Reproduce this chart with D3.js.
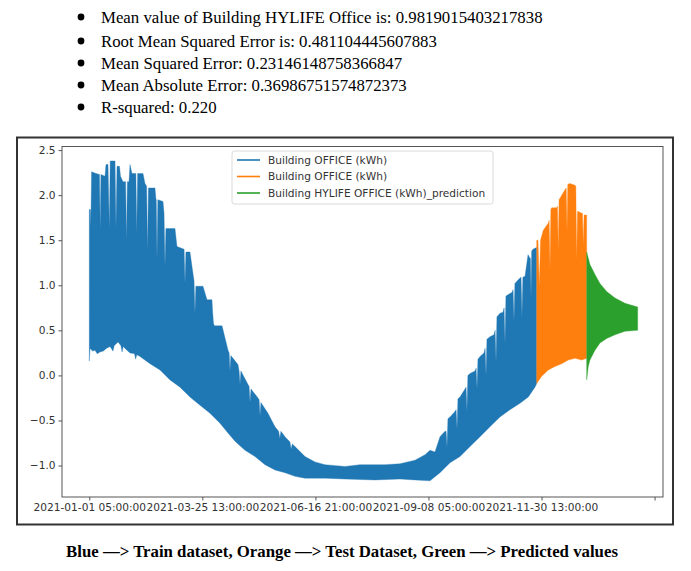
<!DOCTYPE html>
<html>
<head>
<meta charset="utf-8">
<script src="https://cdn.jsdelivr.net/npm/d3@7"></script>
<style>
  html, body { margin: 0; padding: 0; background: #fff; }
  svg { display: block; }
</style>
</head>
<body>
<svg id="chart" width="691" height="571"></svg>
<script>
// ---------------- DATA ----------------
const statLines = [
  "Mean value of Building HYLIFE Office is: 0.9819015403217838",
  "Root Mean Squared Error is: 0.481104445607883",
  "Mean Squared Error: 0.23146148758366847",
  "Mean Absolute Error: 0.36986751574872373",
  "R-squared: 0.220"
];
const caption = "Blue \u2014> Train dataset, Orange \u2014> Test Dataset, Green \u2014> Predicted values";
const seriesNames = ["Building OFFICE (kWh)", "Building OFFICE (kWh)", "Building HYLIFE OFFICE (kWh)_prediction"];
const seriesColors = ["#1f77b4", "#ff7f0e", "#2ca02c"];

const xTickValues = [0, 2000, 4000, 6000, 8000, 10000];
const xTickLabels = ["2021-01-01 05:00:00", "2021-03-25 13:00:00", "2021-06-16 21:00:00",
                     "2021-09-08 05:00:00", "2021-11-30 13:00:00", ""];
const yTickValues = [-1.0, -0.5, 0.0, 0.5, 1.0, 1.5, 2.0, 2.5];

// Train (blue): upper envelope of the hourly series (hour index, kWh)
const trainHighHours = [0,20,27,40,119,180,193,205,278,295,331,354,370,455,472,490,534,552,596,642,658,674,702,720,755,808,824,839,855,950,985,1014,1030,1046,1162,1180,1185,1198,1212,1304,1322,1339,1355,1516,1551,1677,1693,1709,1781,1834,1853,1869,1885,2011,2082,2170,2182,2197,2212,2348,2454,2474,2489,2504,2630,2650,2666,2682,2807,2827,2843,2860,2984,3004,3020,3036,3161,3285,3350,3370,3390,3462,3550,3570,3590,3639,3816,3993,4170,4523,4789,5231,5496,5762,5939,6027,6115,6204,6292,6312,6328,6344,6381,6469,6489,6505,6521,6558,6646,6665,6681,6697,6735,6823,6843,6859,6875,6912,6982,7002,7018,7034,7088,7159,7179,7195,7211,7265,7318,7338,7354,7370,7442,7477,7497,7513,7529,7584,7619,7638,7654,7670,7708,7761,7796,7804,7814,7826,7849,7884,7915];
const trainHigh = [1.84,1.84,1.65,2.26,2.24,2.23,1.61,2.23,2.21,2.34,2.34,1.63,2.38,2.38,1.63,2.32,2.32,2.21,2.15,2.15,1.50,2.15,2.15,2.34,2.24,2.24,2.24,1.58,2.24,2.24,2.13,2.10,1.39,2.08,2.08,1.95,1.95,1.28,1.95,1.93,1.80,1.21,1.63,1.63,1.43,1.40,1.02,1.37,1.37,1.13,1.05,0.69,0.99,0.99,0.84,0.84,0.70,0.58,0.55,0.55,0.28,0.25,0.05,0.22,0.12,0.05,-0.10,0.05,-0.10,-0.12,-0.30,-0.15,-0.25,-0.27,-0.45,-0.30,-0.42,-0.57,-0.62,-0.70,-0.62,-0.68,-0.74,-0.82,-0.76,-0.79,-0.90,-0.96,-0.99,-1.01,-0.99,-0.99,-0.98,-0.94,-0.88,-0.83,-0.85,-0.68,-0.62,-0.62,-0.80,-0.48,-0.46,-0.40,-0.38,-0.60,-0.26,-0.24,-0.15,-0.13,-0.40,0.00,0.02,0.05,0.08,-0.15,0.18,0.21,0.25,0.30,0.00,0.40,0.43,0.45,0.50,0.15,0.65,0.69,0.70,0.75,0.35,0.88,0.91,0.92,0.95,0.60,1.02,1.06,1.08,1.09,0.65,1.09,1.10,1.34,1.30,1.30,0.85,1.38,1.40,1.41,1.42];
// Train (blue): lower envelope
const trainLowHours = [0,12,60,101,140,189,250,300,366,420,440,508,560,580,600,632,720,800,820,840,897,1074,1251,1428,1605,1781,1958,2135,2312,2454,2578,2754,2931,3108,3285,3462,3639,3816,4170,4523,5054,5496,5762,6027,6204,6381,6558,6735,6912,7088,7265,7442,7619,7766,7884,7915];
const trainLow = [0.16,0.30,0.27,0.28,0.24,0.26,0.27,0.30,0.32,0.27,0.33,0.37,0.33,0.26,0.32,0.30,0.25,0.24,0.18,0.23,0.21,0.13,0.06,-0.05,-0.13,-0.24,-0.33,-0.42,-0.53,-0.64,-0.73,-0.83,-0.90,-0.99,-1.05,-1.08,-1.12,-1.14,-1.14,-1.15,-1.16,-1.15,-1.16,-1.17,-1.08,-0.97,-0.90,-0.79,-0.68,-0.57,-0.46,-0.38,-0.31,-0.24,-0.13,-0.09];

// Test (orange)
const testHighHours = [7915,7938,7961,7982,8031,8120,8135,8150,8165,8180,8268,8282,8296,8310,8357,8415,8437,8451,8465,8504,8592,8607,8622,8637,8650,8710,8725,8739,8753,8781,8799];
const testHigh = [1.50,1.50,0.99,1.50,1.61,1.69,1.72,1.17,1.84,1.86,1.86,1.88,1.39,1.95,2.00,2.06,2.08,1.60,2.12,2.13,2.11,2.10,1.28,1.82,1.82,1.80,1.80,1.45,1.78,1.78,1.78];
const testLowHours = [7915,8003,8120,8238,8357,8473,8592,8710,8799];
const testLow = [-0.09,-0.01,0.06,0.10,0.13,0.17,0.19,0.17,0.19];

// Prediction (green)
const predHighHours = [8799,8857,8946,9034,9153,9300,9477,9701];
const predHigh = [1.37,1.23,1.12,1.02,0.93,0.86,0.80,0.76];
const predLowHours = [8799,8827,8857,8946,9034,9153,9300,9477,9701];
const predLow = [-0.05,0.10,0.17,0.28,0.36,0.41,0.45,0.49,0.50];

// ---------------- DRAW ----------------
const svg = d3.select("#chart");

// stats bullets
const serif = "'Liberation Serif','Times New Roman',serif";
const statY = [17, 41, 63, 85, 107];
statLines.forEach((t, i) => {
  svg.append("circle").attr("cx", 81).attr("cy", statY[i]).attr("r", 3.4).attr("fill", "#000");
  svg.append("text").attr("x", 101).attr("y", statY[i] + 5.8)
    .attr("font-family", serif).attr("font-size", 16.8).attr("fill", "#000").text(t);
});

// frame around chart image
svg.append("rect").attr("x", 17).attr("y", 137.5).attr("width", 656).attr("height", 387)
  .attr("fill", "none").attr("stroke", "#333").attr("stroke-width", 2);

// plot area
const pLeft = 62, pRight = 663, pTop = 146.5, pBottom = 497;
const x = d3.scaleLinear().domain([-483, 10149]).range([pLeft, pRight]);
const y = d3.scaleLinear().domain([-1.349, 2.54]).range([pBottom, pTop]);

const plot = svg.append("g");

function band(hiH, hi, loH, lo, color) {
  const pts = hiH.map((h, i) => [h, hi[i]]);
  const lows = loH.map((h, i) => [h, lo[i]]).reverse();
  const all = pts.concat(lows);
  const line = d3.line().x(d => x(d[0])).y(d => y(d[1]));
  plot.append("path").attr("d", line(all) + "Z")
    .attr("fill", color).attr("stroke", color).attr("stroke-width", 0.35).attr("stroke-linejoin", "round");
}
band(trainHighHours, trainHigh, trainLowHours, trainLow, seriesColors[0]);
band(testHighHours, testHigh, testLowHours, testLow, seriesColors[1]);
band(predHighHours, predHigh, predLowHours, predLow, seriesColors[2]);

// axes
const sans = "'DejaVu Sans', sans-serif";
const axisColor = "#444";
const xAxis = d3.axisBottom(x).tickValues(xTickValues)
  .tickFormat((d, i) => xTickLabels[i]).tickSize(3.5).tickSizeOuter(0).tickPadding(3);
const gx = svg.append("g").attr("transform", `translate(0,${pBottom})`).call(xAxis);
const yAxis = d3.axisLeft(y).tickValues(yTickValues)
  .tickFormat(d => d3.format(".1f")(d).replace("-", "\u2212")).tickSize(3.5).tickSizeOuter(0).tickPadding(3);
const gy = svg.append("g").attr("transform", `translate(${pLeft},0)`).call(yAxis);
[gx, gy].forEach(g => {
  g.select(".domain").remove();
  g.selectAll(".tick line").attr("stroke", axisColor).attr("stroke-width", 0.9);
  g.selectAll(".tick text").attr("font-family", sans).attr("font-size", 10.6).attr("fill", "#333");
});

// spines
svg.append("rect").attr("x", pLeft).attr("y", pTop).attr("width", pRight - pLeft).attr("height", pBottom - pTop)
  .attr("fill", "none").attr("stroke", axisColor).attr("stroke-width", 0.9);

// legend
const lg = svg.append("g");
lg.append("rect").attr("x", 232).attr("y", 151).attr("width", 261).attr("height", 53).attr("rx", 2.5)
  .attr("fill", "#fff").attr("fill-opacity", 0.85).attr("stroke", "#d6d6d6").attr("stroke-width", 0.9);
const legY = [160, 176.5, 193];
seriesNames.forEach((name, i) => {
  lg.append("line").attr("x1", 237).attr("x2", 260).attr("y1", legY[i]).attr("y2", legY[i])
    .attr("stroke", seriesColors[i]).attr("stroke-width", 1.6);
  lg.append("text").attr("x", 268).attr("y", legY[i] + 3.8)
    .attr("font-family", sans).attr("font-size", 10.6).attr("fill", "#333").text(name);
});

// caption
svg.append("text").attr("x", 342).attr("y", 556.5).attr("text-anchor", "middle")
  .attr("font-family", serif).attr("font-size", 16.8).attr("font-weight", "bold").attr("fill", "#000")
  .text(caption);
</script>
</body>
</html>
